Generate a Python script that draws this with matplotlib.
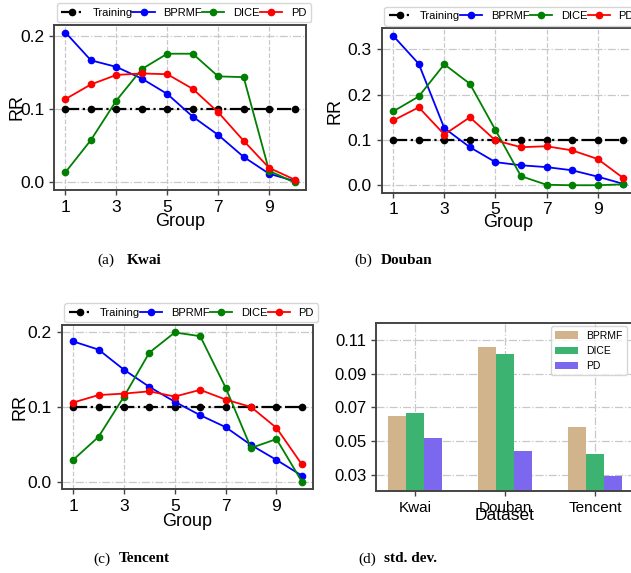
import numpy as np
import matplotlib.pyplot as plt

plt.rcParams["font.family"] = ["Liberation Sans", "DejaVu Sans"]

# group index on the x axis
groups = np.arange(1, 11)
training = [0.1, 0.1, 0.1, 0.1, 0.1, 0.1, 0.1, 0.1, 0.1, 0.1]

# Kwai
kwai_bprmf = [0.205, 0.167, 0.158, 0.142, 0.121, 0.090, 0.065, 0.035, 0.012, 0.002]
kwai_dice = [0.014, 0.058, 0.112, 0.155, 0.176, 0.176, 0.145, 0.144, 0.016, 0.000]
kwai_pd = [0.114, 0.134, 0.147, 0.149, 0.148, 0.128, 0.096, 0.057, 0.020, 0.004]

# Douban
douban_bprmf = [0.330, 0.268, 0.126, 0.084, 0.051, 0.044, 0.040, 0.033, 0.019, 0.003]
douban_dice = [0.163, 0.196, 0.267, 0.224, 0.122, 0.020, 0.001, 0.000, 0.000, 0.002]
douban_pd = [0.143, 0.172, 0.112, 0.150, 0.099, 0.084, 0.086, 0.077, 0.058, 0.016]

# Tencent
tencent_bprmf = [0.188, 0.177, 0.150, 0.127, 0.107, 0.089, 0.073, 0.049, 0.029, 0.008]
tencent_dice = [0.029, 0.060, 0.114, 0.173, 0.200, 0.195, 0.126, 0.045, 0.057, 0.000]
tencent_pd = [0.106, 0.116, 0.118, 0.121, 0.114, 0.123, 0.110, 0.100, 0.072, 0.023]

# std. dev. per dataset
datasets = ["Kwai", "Douban", "Tencent"]
std_bprmf = [0.0649, 0.1056, 0.0583]
std_dice = [0.0667, 0.1020, 0.0422]
std_pd = [0.0518, 0.0440, 0.0292]

W, H = 631, 573
fig = plt.figure(figsize=(W / 100, H / 100), dpi=100)


def px_axes(left, top, right, bottom):
    return fig.add_axes([left / W, 1 - bottom / H, (right - left) / W, (bottom - top) / H])


def style_axes(ax):
    for s in ax.spines.values():
        s.set_color("#444444")
        s.set_linewidth(1.4)
    ax.tick_params(labelsize=12.5, length=3.5, width=1, color="#444444")
    ax.set_axisbelow(True)
    ax.grid(axis="x", ls="--", color="#c8c8c8", lw=0.9)
    ax.grid(axis="y", ls="-.", color="#c8c8c8", lw=0.9)


def line_panel(ax, bprmf, dice, pd_vals, yticks, ylab_x, xlab_y):
    ax.plot(groups, training, "-.", color="black", marker="o", ms=4.5, lw=1.6, label="Training")
    ax.plot(groups, bprmf, "-", color="blue", marker="o", ms=4.5, lw=1.3, label="BPRMF")
    ax.plot(groups, dice, "-", color="green", marker="o", ms=4.5, lw=1.3, label="DICE")
    ax.plot(groups, pd_vals, "-", color="red", marker="o", ms=4.5, lw=1.3, label="PD")
    style_axes(ax)
    ax.set_xticks([1, 3, 5, 7, 9])
    ax.set_yticks(yticks)
    ax.set_xlabel("Group", fontsize=13)
    ax.set_ylabel("RR", fontsize=13)
    ax.yaxis.set_label_coords(ylab_x, 0.5)
    ax.xaxis.set_label_coords(0.5, xlab_y)
    ax.legend(loc="lower left", bbox_to_anchor=(0, 1.0), ncol=4, fontsize=8,
              columnspacing=0.0, handletextpad=0.8, borderaxespad=0.25,
              borderpad=0.4)


ax_a = px_axes(54, 25, 306, 190)
line_panel(ax_a, kwai_bprmf, kwai_dice, kwai_pd, [0.0, 0.1, 0.2], -0.115, -0.14)

ax_b = px_axes(381.7, 28.3, 634.7, 192.7)
line_panel(ax_b, douban_bprmf, douban_dice, douban_pd, [0.0, 0.1, 0.2, 0.3], -0.15, -0.13)

ax_c = px_axes(61.7, 325, 313.3, 489)
line_panel(ax_c, tencent_bprmf, tencent_dice, tencent_pd, [0.0, 0.1, 0.2], -0.13, -0.146)

# (d) bar chart of std. dev.
ax_d = px_axes(376, 323.3, 634, 491.3)
x = np.arange(len(datasets))
w = 0.2
ax_d.bar(x - w, std_bprmf, w, color="tan", label="BPRMF")
ax_d.bar(x, std_dice, w, color="mediumseagreen", label="DICE")
ax_d.bar(x + w, std_pd, w, color="mediumslateblue", label="PD")
style_axes(ax_d)
ax_d.grid(axis="x", ls="-.", color="#c8c8c8", lw=0.9)
ax_d.set_xticks(x)
ax_d.set_xticklabels(datasets)
ax_d.tick_params(axis="x", labelsize=11)
ax_d.tick_params(axis="y", labelsize=12)
ax_d.set_yticks([0.03, 0.05, 0.07, 0.09, 0.11])
ax_d.set_ylim(0.02, 0.12)
ax_d.set_xlabel("Dataset", fontsize=12.5)
ax_d.xaxis.set_label_coords(0.5, -0.1)
ax_d.legend(loc="upper right", fontsize=7.5, handlelength=2.2, borderaxespad=0.3,
            bbox_to_anchor=(0.985, 1.0))

# captions below each panel
serif = ["Liberation Serif", "DejaVu Serif"]
captions = [
    (114, 127, 260, "(a)", "Kwai"),
    (372, 381, 260, "(b)", "Douban"),
    (111, 119, 559, "(c)", "Tencent"),
    (376, 384, 559, "(d)", "std. dev."),
]
for x_end, x_start, yc, tag, name in captions:
    fig.text(x_end / W, 1 - yc / H, tag, ha="right", va="center", fontsize=11, family=serif)
    fig.text(x_start / W, 1 - yc / H, name, ha="left", va="center", fontsize=11,
             family=serif, fontweight="bold")

fig.savefig("out.png", dpi=100)
